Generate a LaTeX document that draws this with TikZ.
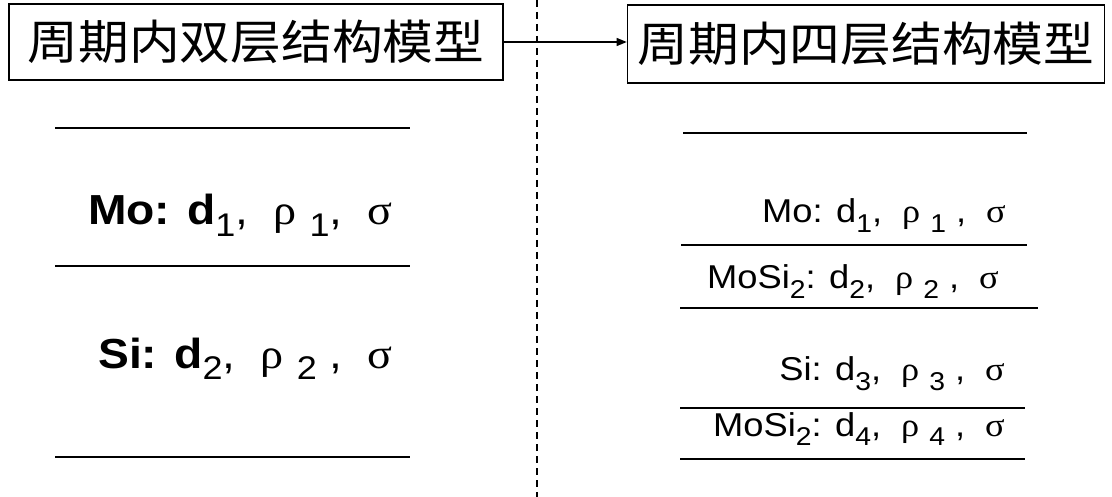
\documentclass[tikz,border=0pt]{standalone}
\usepackage{fontspec}
\setmainfont{Liberation Sans}
\newfontfamily\cjk{Noto Sans CJK SC}
\newfontfamily\gk{Liberation Serif}
\newcommand\dn[1]{\raisebox{-0.28em}{\scalebox{0.78}{\mdseries #1}}}
\newcommand\gap{\hspace{0.55em}}
\newcommand\wide[1]{\scalebox{1.1}[1]{#1}}
\usetikzlibrary{arrows.meta}
\begin{document}
\begin{tikzpicture}[x=1pt,y=-1pt,
  titlebox/.style={draw,line width=1.6pt,inner sep=0pt,minimum height=76pt,font=\cjk\fontsize{47}{54}\selectfont},
  layer/.style={line width=1.4pt},
  bigtxt/.style={inner sep=0pt,anchor=base east,font=\bfseries\fontsize{42}{48}\selectfont},
  smalltxt/.style={inner sep=0pt,anchor=base east,font=\fontsize{33}{38}\selectfont}]
\useasboundingbox (0,0) rectangle (1112,497);
% title boxes
\node[titlebox,minimum width=494pt] (L) at (256,42) {\scalebox{1.08}[1]{周期内双层结构模型}};
\node[titlebox,minimum width=477pt,minimum height=78pt] (R) at (866,44) {\scalebox{1.08}[1]{周期内四层结构模型}};
\draw[line width=1.2pt,-{Triangle[length=10pt,width=8pt]}] (L.east) -- (L.east -| R.west);
% dashed divider
\coordinate (d1) at (537,0);
\coordinate (d2) at (537,497);
\draw[line width=1.1pt,dash pattern=on 7pt off 5pt] (d1) -- (d2);
% left layers
\coordinate (la1) at (55,128); \coordinate (lb1) at (410,128);
\coordinate (la2) at (55,266); \coordinate (lb2) at (410,266);
\coordinate (la3) at (55,457); \coordinate (lb3) at (410,457);
\draw[layer] (la1) -- (lb1);
\draw[layer] (la2) -- (lb2);
\draw[layer] (la3) -- (lb3);
\node[bigtxt] (mo) at (393,225) {\wide{Mo: d\dn{1}{\mdseries,}\gap{\mdseries\gk ρ} \dn{1}{\mdseries,}\gap{\mdseries\gk σ}}};
\node[bigtxt] (si) at (393,368) {\wide{Si: d\dn{2}{\mdseries,}\gap{\mdseries\gk ρ} \dn{2} {\mdseries,}\gap{\mdseries\gk σ}}};
% right layers
\coordinate (ra1) at (683,133); \coordinate (rb1) at (1027,133);
\coordinate (ra2) at (681,245); \coordinate (rb2) at (1027,245);
\coordinate (ra3) at (680,308); \coordinate (rb3) at (1038,308);
\coordinate (ra4) at (680,408); \coordinate (rb4) at (1025,408);
\coordinate (ra5) at (680,459); \coordinate (rb5) at (1025,459);
\draw[layer] (ra1) -- (rb1);
\draw[layer] (ra2) -- (rb2);
\draw[layer] (ra3) -- (rb3);
\draw[layer] (ra4) -- (rb4);
\draw[layer] (ra5) -- (rb5);
\node[smalltxt] (mo2) at (1006,223) {\wide{Mo: d\dn{1},\gap{\gk ρ} \dn{1} ,\gap{\gk σ}}};
\node[smalltxt] (ms1) at (999,289) {\wide{MoSi\dn{2}: d\dn{2},\gap{\gk ρ} \dn{2} ,\gap{\gk σ}}};
\node[smalltxt] (si2) at (1005,381) {\wide{Si: d\dn{3},\gap{\gk ρ} \dn{3} ,\gap{\gk σ}}};
\node[smalltxt] (ms2) at (1005,436) {\wide{MoSi\dn{2}: d\dn{4},\gap{\gk ρ} \dn{4} ,\gap{\gk σ}}};
\end{tikzpicture}
\end{document}
